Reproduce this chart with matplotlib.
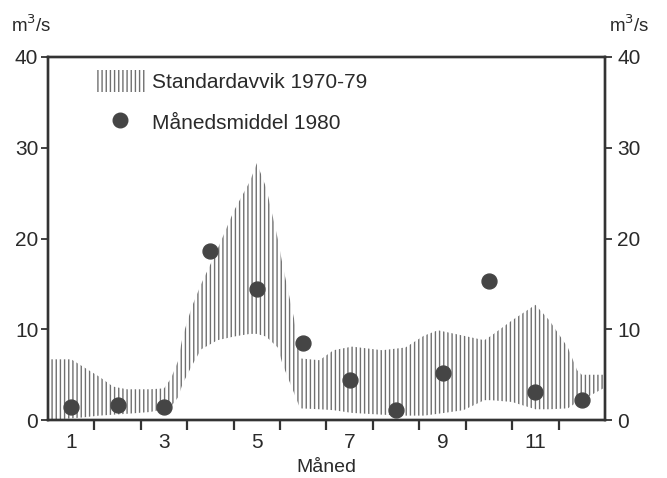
import matplotlib
matplotlib.use("Agg")
import matplotlib.pyplot as plt
from matplotlib.patches import Patch
from matplotlib.lines import Line2D
import numpy as np

plt.rcParams['font.family'] = ['Liberation Sans', 'DejaVu Sans']
plt.rcParams['hatch.linewidth'] = 1.0
plt.rcParams['hatch.color'] = '#707070'

# Monthly means 1980 (m3/s)
months = [1, 2, 3, 4, 5, 6, 7, 8, 9, 10, 11, 12]
mean_1980 = [1.5, 1.7, 1.5, 18.6, 14.4, 8.5, 4.4, 1.1, 5.2, 15.3, 3.1, 2.2]

# Standard deviation band 1970-79 (lower / upper edge) read along the month axis
band_x = [0.5, 1.0, 1.25, 1.6, 1.9, 2.2, 2.7, 3.0, 3.15, 3.3, 3.4, 3.6, 3.8, 4.15, 4.5,
          4.85, 5.0, 5.2, 5.45, 5.55, 5.8, 5.93, 6.35, 6.65, 7.05, 7.7, 8.2, 8.6, 8.9,
          9.45, 9.9, 10.05, 10.5, 11.0, 11.3, 11.7, 11.9, 12.0, 12.5]
band_lo = [0.0, 0.2, 0.3, 0.5, 0.6, 0.7, 0.9, 1.2, 1.5, 2.5, 4.0, 6.0, 7.8, 8.8, 9.2,
           9.5, 9.5, 9.2, 8.0, 6.2, 3.0, 1.3, 1.2, 1.1, 0.8, 0.6, 0.5, 0.5, 0.7,
           1.1, 2.2, 2.2, 2.0, 1.2, 1.2, 1.3, 2.0, 2.2, 3.6]
band_hi = [6.7, 6.7, 5.9, 4.8, 3.7, 3.4, 3.4, 3.5, 4.6, 6.5, 9.2, 12.5, 15.0, 18.8, 23.0,
           26.3, 28.3, 25.6, 20.0, 17.2, 11.2, 6.8, 6.6, 7.7, 8.1, 7.7, 8.0, 9.3, 9.9,
           9.3, 8.8, 9.3, 11.0, 12.7, 11.0, 8.0, 5.5, 5.0, 5.0]

xticks_major = [1, 3, 5, 7, 9, 11]
yticks = [0, 10, 20, 30, 40]

FS = 15
txt_color = '#2a2a2a'

fig = plt.figure(figsize=(6.67, 4.78), dpi=100)
ax = fig.add_axes([0.072, 0.121, 0.835, 0.760])

ax.fill_between(band_x, band_lo, band_hi, facecolor='none', edgecolor='#707070',
                hatch='||||', linewidth=0)
ax.scatter(months, mean_1980, s=115, color='#454545', zorder=3)

ax.set_xlim(0.5, 12.5)
ax.set_ylim(0, 40)

ax.set_xticks(xticks_major)
ax.set_xticklabels([str(t) for t in xticks_major], fontsize=FS, color=txt_color)
ax.set_xticks(np.arange(1.5, 12.5, 1.0), minor=True)
ax.tick_params(axis='x', which='major', length=0, pad=9)
ax.tick_params(axis='x', which='minor', length=7, width=1.6, direction='out', color='#333333')

ax.set_yticks(yticks)
ax.set_yticklabels([str(t) for t in yticks], fontsize=FS, color=txt_color)
ax.tick_params(axis='y', length=5, width=1.3, direction='out', pad=2, color='#333333')

ax2 = ax.twinx()
ax2.set_ylim(0, 40)
ax2.set_yticks(yticks)
ax2.set_yticklabels([str(t) for t in yticks], fontsize=FS, color=txt_color)
ax2.tick_params(axis='y', length=5, width=1.3, direction='out', pad=4, color='#333333')

for a in (ax, ax2):
    for s in a.spines.values():
        s.set_linewidth(1.7)
        s.set_color('#333333')

ax.set_xlabel('Måned', fontsize=14, labelpad=5, color=txt_color)

unit = r'm$^3$/s'
fig.text(0.016, 0.933, unit, fontsize=13.5, ha='left', va='baseline', color=txt_color)
fig.text(0.913, 0.933, unit, fontsize=13.5, ha='left', va='baseline', color=txt_color)

handles = [Patch(facecolor='none', edgecolor='#707070', hatch='||||', linewidth=0),
           Line2D([], [], marker='o', linestyle='none', color='#454545', markersize=10.5)]
labels = ['Standardavvik 1970-79', 'Månedsmiddel 1980']
leg = ax.legend(handles, labels, loc='upper left', bbox_to_anchor=(0.084, 0.965), frameon=False,
                fontsize=FS, handlelength=2.4, handleheight=1.3, labelspacing=0.9,
                handletextpad=0.35, borderpad=0, borderaxespad=0)
for t in leg.get_texts():
    t.set_color(txt_color)

fig.savefig('out.png', dpi=100)
